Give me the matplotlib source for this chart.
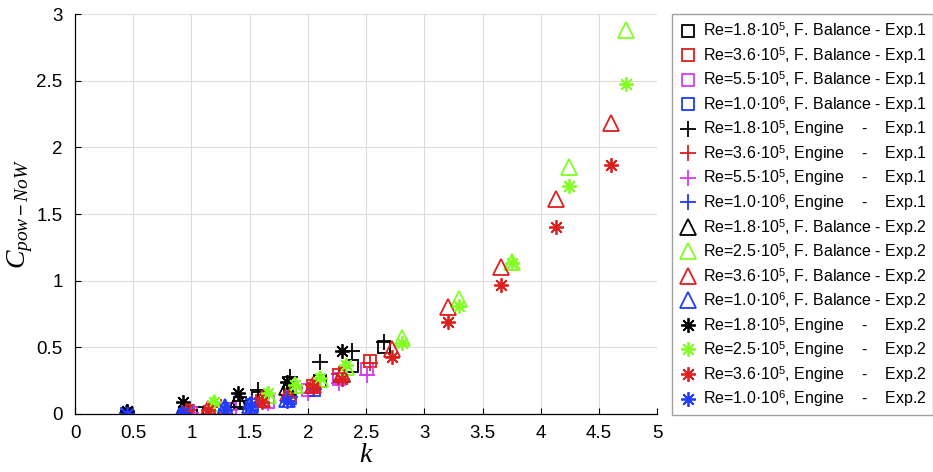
import matplotlib
matplotlib.use("Agg")
import matplotlib.pyplot as plt

plt.rcParams['font.family'] = ['Liberation Sans', 'DejaVu Sans']
plt.rcParams['mathtext.fontset'] = 'custom'
plt.rcParams['mathtext.rm'] = 'Liberation Sans'
plt.rcParams['mathtext.it'] = 'Liberation Serif:italic'

# colours per Reynolds number
c_18 = '#000000'
c_25 = '#80ff20'
c_36 = '#dd1f1f'
c_55 = '#d53cf0'
c_10 = '#1f3cff'

# Exp.1 - force balance (squares) and engine (plus), same k per Re
k1_18 = [1.05, 1.42, 1.57, 1.85, 2.10, 2.38, 2.65]
fb1_18 = [0.01, 0.08, 0.12, 0.19, 0.25, 0.36, 0.50]
en1_18 = [-0.02, 0.10, 0.18, 0.28, 0.39, 0.47, 0.54]

k1_36 = [0.97, 1.25, 1.61, 2.04, 2.27, 2.53]
fb1_36 = [0.02, 0.04, 0.10, 0.21, 0.29, 0.40]
en1_36 = [0.03, 0.05, 0.12, 0.22, 0.30, 0.38]

k1_55 = [1.00, 1.33, 1.66, 2.00, 2.27, 2.51]
fb1_55 = [0.01, 0.04, 0.09, 0.18, 0.26, 0.34]
en1_55 = [0.01, 0.03, 0.08, 0.16, 0.23, 0.29]

k1_10 = [0.45, 0.95, 1.29, 1.52, 1.85, 2.05]
fb1_10 = [0.00, 0.01, 0.04, 0.07, 0.12, 0.18]
en1_10 = [0.01, 0.02, 0.05, 0.08, 0.13, 0.19]

# Exp.2 - force balance (triangles) and engine (asterisks)
k2_18 = [0.45, 0.93, 1.40, 1.82, 2.29]
fb2_18 = [0.01, 0.04, 0.11, 0.20, 0.30]
en2_18 = [0.02, 0.09, 0.16, 0.24, 0.47]

k2_25 = [1.19, 1.66, 1.89, 2.10, 2.33, 2.81, 3.30, 3.75, 4.24, 4.73]
fb2_25 = [0.08, 0.14, 0.22, 0.26, 0.35, 0.57, 0.86, 1.14, 1.85, 2.88]
en2_25 = [0.09, 0.16, 0.22, 0.27, 0.37, 0.53, 0.81, 1.13, 1.71, 2.48]

k2_36 = [0.95, 1.14, 1.61, 1.83, 2.04, 2.29, 2.72, 3.20, 3.66, 4.13, 4.60]
fb2_36 = [0.03, 0.04, 0.11, 0.16, 0.22, 0.30, 0.49, 0.80, 1.10, 1.61, 2.18]
en2_36 = [0.03, 0.03, 0.09, 0.13, 0.20, 0.26, 0.43, 0.69, 0.97, 1.40, 1.87]

k2_10 = [0.45, 0.93, 1.29, 1.50, 1.82]
fb2_10 = [0.01, 0.02, 0.05, 0.07, 0.11]
en2_10 = [0.00, 0.01, 0.03, 0.06, 0.10]

fb = ', F. Balance - '
en = ', Engine    -    '
series = [
    (k1_18, fb1_18, 's', c_18, 'Re=1.8·10$^5$' + fb + 'Exp.1'),
    (k1_36, fb1_36, 's', c_36, 'Re=3.6·10$^5$' + fb + 'Exp.1'),
    (k1_55, fb1_55, 's', c_55, 'Re=5.5·10$^5$' + fb + 'Exp.1'),
    (k1_10, fb1_10, 's', c_10, 'Re=1.0·10$^6$' + fb + 'Exp.1'),
    (k1_18, en1_18, '+', c_18, 'Re=1.8·10$^5$' + en + 'Exp.1'),
    (k1_36, en1_36, '+', c_36, 'Re=3.6·10$^5$' + en + 'Exp.1'),
    (k1_55, en1_55, '+', c_55, 'Re=5.5·10$^5$' + en + 'Exp.1'),
    (k1_10, en1_10, '+', c_10, 'Re=1.0·10$^6$' + en + 'Exp.1'),
    (k2_18, fb2_18, '^', c_18, 'Re=1.8·10$^5$' + fb + 'Exp.2'),
    (k2_25, fb2_25, '^', c_25, 'Re=2.5·10$^5$' + fb + 'Exp.2'),
    (k2_36, fb2_36, '^', c_36, 'Re=3.6·10$^5$' + fb + 'Exp.2'),
    (k2_10, fb2_10, '^', c_10, 'Re=1.0·10$^6$' + fb + 'Exp.2'),
    (k2_18, en2_18, (8, 2, 0), c_18, 'Re=1.8·10$^5$' + en + 'Exp.2'),
    (k2_25, en2_25, (8, 2, 0), c_25, 'Re=2.5·10$^5$' + en + 'Exp.2'),
    (k2_36, en2_36, (8, 2, 0), c_36, 'Re=3.6·10$^5$' + en + 'Exp.2'),
    (k2_10, en2_10, (8, 2, 0), c_10, 'Re=1.0·10$^6$' + en + 'Exp.2'),
]
sizes = {'s': 8, '+': 11.5, '^': 11.5}

fig = plt.figure(figsize=(9.33, 4.72), dpi=100)
ax = fig.add_axes([0.0804, 0.1229, 0.624, 0.847])

for k, c, m, col, lab in series:
    ms = sizes.get(m, 10) if isinstance(m, str) else 10.5
    ax.plot(k, c, linestyle='none', marker=m, markersize=ms,
            markerfacecolor='none', markeredgecolor=col,
            markeredgewidth=1.3, label=lab)

ax.set_xlim(0, 5)
ax.set_ylim(0, 3)
ax.set_xticks([0, 0.5, 1, 1.5, 2, 2.5, 3, 3.5, 4, 4.5, 5])
ax.set_xticklabels(['0', '0.5', '1', '1.5', '2', '2.5', '3', '3.5', '4', '4.5', '5'])
ax.set_yticks([0, 0.5, 1, 1.5, 2, 2.5, 3])
ax.set_yticklabels(['0', '0.5', '1', '1.5', '2', '2.5', '3'])
ax.tick_params(direction='in', length=4, labelsize=13.5, width=0.8)
ax.tick_params(axis='x', pad=8)
ax.tick_params(axis='y', pad=9)
ax.grid(True, color='#dcdcdc', linewidth=0.8)
ax.set_axisbelow(True)
for s in ['top', 'right']:
    ax.spines[s].set_visible(False)
for s in ['left', 'bottom']:
    ax.spines[s].set_linewidth(0.9)

ax.set_xlabel('$k$', fontsize=20, labelpad=0)
ax.set_ylabel('$C_{pow-NoW}$', fontsize=20, labelpad=1)

leg = ax.legend(loc='upper left', bbox_to_anchor=(672 / 933, 1 - 14 / 472),
                bbox_transform=fig.transFigure, fontsize=11.5, frameon=True,
                fancybox=False, edgecolor='#888888', labelspacing=0.22,
                handletextpad=0.35, handlelength=1.2, borderpad=0.4,
                borderaxespad=0)
leg.get_frame().set_linewidth(1.0)

fig.savefig('out.png', dpi=100)
